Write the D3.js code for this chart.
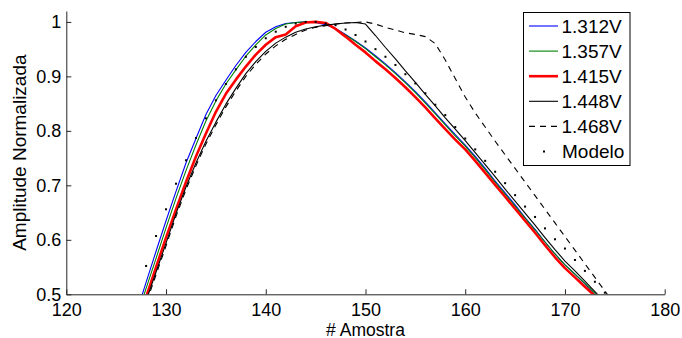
<!DOCTYPE html>
<html>
<head>
<meta charset="utf-8">
<script src="https://cdn.jsdelivr.net/npm/d3@7"></script>
<style>
  html, body { margin: 0; padding: 0; background: #fff; }
  svg { display: block; font-family: "Liberation Sans", Arial, Helvetica, sans-serif; }
</style>
</head>
<body>
<svg id="chart" width="682" height="338"></svg>
<script>
// ---- data ----
const samples = [127,128,129,130,131,132,133,134,135,136,137,138,139,140,141,142,143,144,145,146,147,148,149,150,151,152,153,154,155,156,157,158,159,160,161,162,163,164,165,166,167,168,169,170,171,172,173,174,175];

const v1312 = [0.464,0.522,0.579,0.635,0.689,0.741,0.786,0.830,0.865,0.893,0.920,0.944,0.964,0.981,0.991,0.997,0.999,1.000,0.999,0.995,0.988,0.977,0.965,0.952,0.938,0.923,0.907,0.890,0.872,0.853,0.833,0.813,0.793,0.774,0.753,0.731,0.708,0.686,0.664,0.641,0.619,0.596,0.574,0.554,0.537,0.519,0.499,0.481,0.463];
const v1357 = [0.454,0.511,0.566,0.622,0.676,0.727,0.774,0.818,0.855,0.886,0.912,0.937,0.958,0.976,0.988,0.996,0.999,1.000,1.000,0.997,0.987,0.976,0.964,0.951,0.936,0.921,0.905,0.888,0.870,0.851,0.831,0.811,0.791,0.772,0.751,0.729,0.706,0.684,0.662,0.640,0.618,0.596,0.574,0.554,0.537,0.520,0.502,0.485,0.467];
const v1415 = [0.440,0.495,0.550,0.604,0.656,0.706,0.753,0.795,0.835,0.868,0.894,0.918,0.940,0.958,0.972,0.977,0.992,0.999,1.000,0.998,0.987,0.973,0.958,0.944,0.928,0.913,0.897,0.880,0.862,0.843,0.823,0.803,0.784,0.766,0.745,0.723,0.701,0.679,0.657,0.635,0.613,0.590,0.568,0.548,0.531,0.514,0.497,0.480,0.463];
const v1448 = [0.435,0.488,0.541,0.594,0.648,0.697,0.741,0.781,0.816,0.849,0.878,0.905,0.927,0.946,0.961,0.972,0.981,0.987,0.991,0.994,0.996,0.998,0.999,0.996,0.975,0.953,0.932,0.910,0.889,0.867,0.846,0.824,0.803,0.782,0.760,0.738,0.716,0.693,0.671,0.649,0.627,0.604,0.582,0.561,0.543,0.524,0.505,0.486,0.467];
const v1468 = [0.430,0.483,0.536,0.589,0.643,0.692,0.736,0.776,0.811,0.844,0.873,0.900,0.922,0.941,0.956,0.968,0.977,0.985,0.990,0.993,0.996,0.998,0.999,1.000,0.996,0.990,0.985,0.980,0.977,0.973,0.960,0.930,0.896,0.862,0.833,0.807,0.781,0.756,0.731,0.706,0.681,0.656,0.631,0.606,0.581,0.556,0.531,0.506,0.481];
const modelo = [null,0.552,0.607,0.656,0.703,0.746,0.787,0.823,0.856,0.886,0.913,0.936,0.954,0.970,0.982,0.991,0.997,1.000,1.000,0.997,0.994,0.986,0.976,0.964,0.950,0.936,0.921,0.904,0.887,0.869,0.848,0.829,0.807,0.786,0.766,0.745,0.725,0.704,0.682,0.661,0.642,0.621,0.601,0.584,0.563,0.543,0.523,0.503,null];

const seriesNames = ["1.312V","1.357V","1.415V","1.448V","1.468V","Modelo"];
const xTicks = [120,130,140,150,160,170,180];
const yTicks = [0.5,0.6,0.7,0.8,0.9,1];
const xLabel = "# Amostra";
const yLabel = "Amplitude Normalizada";

// ---- styles ----
const styles = [
  {values: v1312, color: "#0000ff", width: 1.1, dash: null},
  {values: v1357, color: "#008000", width: 1.1, dash: null},
  {values: v1415, color: "#ff0000", width: 2.6, dash: null},
  {values: v1448, color: "#000000", width: 1.1, dash: null},
  {values: v1468, color: "#000000", width: 1.1, dash: "6,5"}
];

const svg = d3.select("#chart");
const x = d3.scaleLinear().domain([120, 180]).range([66.3, 664.7]);
const y = d3.scaleLinear().domain([0.5, 1.02]).range([294.3, 11]);

svg.append("defs").append("clipPath").attr("id", "plotclip")
  .append("rect")
  .attr("x", x(120)).attr("y", y(1.02))
  .attr("width", x(180) - x(120)).attr("height", y(0.5) - y(1.02));

const plot = svg.append("g").attr("clip-path", "url(#plotclip)");

const line = d3.line()
  .defined(d => d[1] != null)
  .x(d => x(d[0])).y(d => y(d[1]));

styles.forEach(s => {
  const pts = samples.map((t, i) => [t, s.values[i]]);
  plot.append("path")
    .attr("d", line(pts))
    .attr("fill", "none")
    .attr("stroke", s.color)
    .attr("stroke-width", s.width)
    .attr("stroke-linejoin", "round")
    .attr("stroke-dasharray", s.dash);
});

const modelPts = samples.map((t, i) => [t, modelo[i]]).filter(d => d[1] != null && d[1] >= 0.5);
plot.selectAll("rect.dot").data(modelPts).join("rect")
  .attr("class", "dot")
  .attr("x", d => x(d[0]) - 1)
  .attr("y", d => y(d[1]) - 1)
  .attr("width", 2).attr("height", 2)
  .attr("fill", "#000");

// ---- axes ----
const axisColor = "#262626";
const gx = svg.append("g").attr("transform", `translate(0,${y(0.5)})`)
  .call(d3.axisBottom(x).tickValues(xTicks).tickSizeInner(-5).tickSizeOuter(0).tickPadding(9).tickFormat(d3.format("d")));
const gy = svg.append("g").attr("transform", `translate(${x(120)},0)`)
  .call(d3.axisLeft(y).tickValues(yTicks).tickSizeInner(-5).tickSizeOuter(0).tickPadding(5).tickFormat(d => d === 1 ? "1" : d3.format(".1f")(d)));
[gx, gy].forEach(g => {
  g.select(".domain").attr("stroke", axisColor).attr("stroke-width", 1);
  g.selectAll(".tick line").attr("stroke", axisColor);
  g.selectAll(".tick text").attr("fill", "#000").attr("font-size", 18)
    .attr("font-family", "Liberation Sans, Arial, sans-serif");
});

svg.append("text")
  .attr("x", (x(120) + x(180)) / 2).attr("y", 335.5)
  .attr("text-anchor", "middle").attr("font-size", 17.5).attr("fill", "#000")
  .text(xLabel);

svg.append("text")
  .attr("transform", `translate(26,${(y(0.5)+y(1.02))/2}) rotate(-90)`)
  .attr("text-anchor", "middle").attr("font-size", 19).attr("fill", "#000")
  .text(yLabel);

// ---- legend ----
const lg = svg.append("g");
lg.append("rect")
  .attr("x", 523.5).attr("y", 12.5).attr("width", 106.5).attr("height", 153)
  .attr("fill", "#fff").attr("stroke", "#000").attr("stroke-width", 1);

const rows = seriesNames.map((n, i) => ({name: n, i}));
rows.forEach(r => {
  const cy = 26 + r.i * 25.1;
  if (r.i < styles.length) {
    const s = styles[r.i];
    lg.append("line")
      .attr("x1", 529).attr("x2", 558).attr("y1", cy).attr("y2", cy)
      .attr("stroke", s.color).attr("stroke-width", s.width)
      .attr("stroke-dasharray", s.dash);
  } else {
    lg.append("rect").attr("x", 543).attr("y", cy - 1).attr("width", 2).attr("height", 2).attr("fill", "#000");
  }
  lg.append("text")
    .attr("x", r.i < styles.length ? 561.5 : 562)
    .attr("y", cy).attr("dy", "0.36em")
    .attr("font-size", 19).attr("fill", "#000")
    .text(r.name);
});
</script>
</body>
</html>
